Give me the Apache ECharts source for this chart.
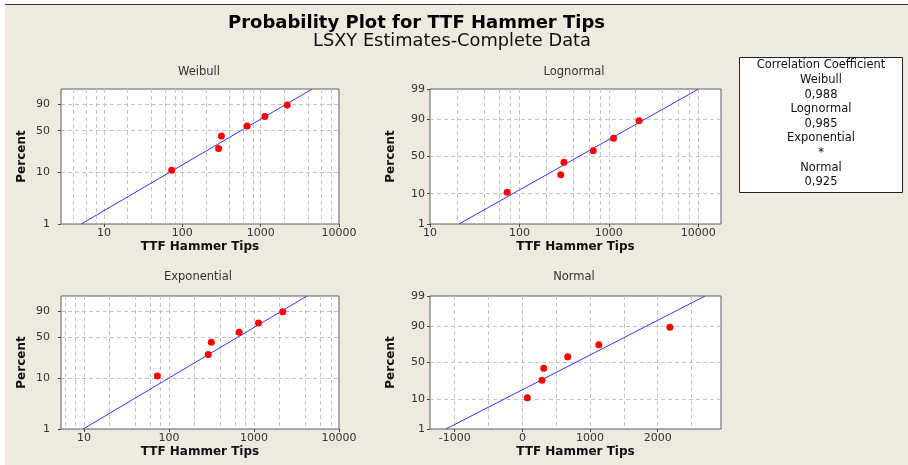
<!DOCTYPE html>
<html>
<head>
<meta charset="utf-8">
<script src="https://cdn.jsdelivr.net/npm/echarts@6/dist/echarts.min.js"></script>
<style>
html,body{margin:0;padding:0;background:#ffffff;}
#c{width:908px;height:465px;}
</style>
</head>
<body>
<div id="c"></div>
<script>
// ---------------- data ----------------
const ttf = [73, 290, 315, 670, 1130, 2180];
const percent = [10.9, 26.6, 42.2, 57.8, 73.4, 89.1];

const panelNames = ['Weibull', 'Lognormal', 'Exponential', 'Normal'];
const corrValues = ['0,988', '0,985', '*', '0,925'];

// fitted lines: two end points (TTF, percent)
const weibullFitTTF = [5.1, 4560];
const weibullFitPct = [1, 99];
const lognormalFitTTF = [21.1, 10100];
const lognormalFitPct = [1, 99];
const exponentialFitTTF = [9.8, 4200];
const exponentialFitPct = [1, 99];
const normalFitTTF = [-1130, 2700];
const normalFitPct = [1, 99];

// axis ranges and ticks
const weibullXRange = [2.82, 10000];
const lognormalXRange = [10, 18000];
const exponentialXRange = [5.37, 10000];
const normalXRange = [-1365, 2935];
const logTickLabels = [10, 100, 1000, 10000];
const logGridValues = [2, 4, 6, 8, 10, 20, 40, 60, 80, 100, 200, 400, 600, 800, 1000, 2000, 4000, 6000, 8000, 10000, 20000];
const normalTickLabels = [-1000, 0, 1000, 2000];
const normalGridValues = [-1000, -500, 0, 500, 1000, 1500, 2000, 2500];
const weibullPctTicks = [1, 10, 50, 90];
const normalPctTicks = [1, 10, 50, 90, 99];
const pctGridValues = [10, 50, 90];
const pctRange = [1, 99];

// ---------------- scale transforms ----------------
function lg(x) { return Math.log10(x); }
function ident(x) { return x; }
function weib(p) { return Math.log(-Math.log(1 - p / 100)); }
function probit(pp) {
  const p = pp / 100;
  const a = [-3.969683028665376e+01, 2.209460984245205e+02, -2.759285104469687e+02, 1.383577518672690e+02, -3.066479806614716e+01, 2.506628277459239e+00];
  const b = [-5.447609879822406e+01, 1.615858368580409e+02, -1.556989798598866e+02, 6.680131188771972e+01, -1.328068155288572e+01];
  const c = [-7.784894002430293e-03, -3.223964580411365e-01, -2.400758277161838e+00, -2.549671464489236e+00, 4.374664141464968e+00, 2.938163982698783e+00];
  const d = [7.784695709041462e-03, 3.224671290700398e-01, 2.445134137142996e+00, 3.754408661907416e+00];
  const pl = 0.02425;
  let q, r;
  if (p < pl) {
    q = Math.sqrt(-2 * Math.log(p));
    return (((((c[0]*q+c[1])*q+c[2])*q+c[3])*q+c[4])*q+c[5]) / ((((d[0]*q+d[1])*q+d[2])*q+d[3])*q+1);
  }
  if (p <= 1 - pl) {
    q = p - 0.5; r = q * q;
    return (((((a[0]*r+a[1])*r+a[2])*r+a[3])*r+a[4])*r+a[5])*q / (((((b[0]*r+b[1])*r+b[2])*r+b[3])*r+b[4])*r+1);
  }
  q = Math.sqrt(-2 * Math.log(1 - p));
  return -(((((c[0]*q+c[1])*q+c[2])*q+c[3])*q+c[4])*q+c[5]) / ((((d[0]*q+d[1])*q+d[2])*q+d[3])*q+1);
}

// ---------------- layout (styling) ----------------
const FONT = 'DejaVu Sans';
const gridBoxes = [
  { left: 61, top: 89, width: 278, height: 135 },
  { left: 430, top: 89, width: 291, height: 135 },
  { left: 61, top: 296, width: 278, height: 133 },
  { left: 430, top: 296, width: 291, height: 133 }
];
const yLabelMargins = [11, 5, 11, 5];
const panels = [
  { tx: lg, ty: weib, xr: weibullXRange, xl: logTickLabels, xg: logGridValues, yl: weibullPctTicks, fx: weibullFitTTF, fp: weibullFitPct, log: true },
  { tx: lg, ty: probit, xr: lognormalXRange, xl: logTickLabels, xg: logGridValues, yl: normalPctTicks, fx: lognormalFitTTF, fp: lognormalFitPct, log: true },
  { tx: lg, ty: weib, xr: exponentialXRange, xl: logTickLabels, xg: logGridValues, yl: weibullPctTicks, fx: exponentialFitTTF, fp: exponentialFitPct, log: true },
  { tx: ident, ty: probit, xr: normalXRange, xl: normalTickLabels, xg: normalGridValues, yl: normalPctTicks, fx: normalFitTTF, fp: normalFitPct, log: false }
];

const grids = [], xAxes = [], yAxes = [], series = [];
const eps = 1e-9;
const dashStyle = { color: '#c4c4c4', width: 1, type: [4, 3] };
const labelStyle = { color: '#333', fontFamily: FONT, fontSize: 11 };

panels.forEach(function (pn, i) {
  const g = gridBoxes[i];
  grids.push({ left: g.left, top: g.top, width: g.width, height: g.height, show: true,
    backgroundColor: '#ffffff', borderColor: '#5e5e5e', borderWidth: 1, containLabel: false });
  const xmin = pn.tx(pn.xr[0]) - eps, xmax = pn.tx(pn.xr[1]) + eps;
  const ymin = pn.ty(pctRange[0]) - eps, ymax = pn.ty(pctRange[1]) + eps;
  const xInner = pn.xg.map(pn.tx).filter(function (v) { return v > xmin + 1e-6 && v < xmax - 1e-6; });
  const yInner = pctGridValues.map(pn.ty);
  const yTickVals = pn.yl.map(pn.ty);
  // label x axis
  xAxes.push({
    type: 'value', gridIndex: i, position: 'bottom', min: xmin, max: xmax,
    axisLine: { show: false, onZero: false },
    axisTick: { show: true, length: 3, lineStyle: { color: '#444' }, customValues: pn.xl.map(pn.tx) },
    axisLabel: Object.assign({ margin: 4, customValues: pn.xl.map(pn.tx),
      formatter: function (v) { return pn.log ? String(Math.round(Math.pow(10, v))) : String(Math.round(v)); } }, labelStyle),
    splitLine: { show: false },
    name: 'TTF Hammer Tips', nameLocation: 'middle', nameGap: 17,
    nameTextStyle: { color: '#111', fontFamily: FONT, fontSize: 12, fontWeight: 'bold' }
  });
  // grid-line x axis
  xAxes.push({
    type: 'value', gridIndex: i, position: 'bottom', min: xmin, max: xmax,
    axisLine: { show: false, onZero: false }, axisTick: { show: false, customValues: xInner },
    axisLabel: { show: false }, splitLine: { show: true, lineStyle: dashStyle }
  });
  // label y axis
  yAxes.push({
    type: 'value', gridIndex: i, position: 'left', min: ymin, max: ymax,
    axisLine: { show: false, onZero: false },
    axisTick: { show: true, length: 3, lineStyle: { color: '#444' }, customValues: yTickVals },
    axisLabel: Object.assign({ margin: yLabelMargins[i], customValues: yTickVals,
      formatter: function (v) {
        let best = 0, bd = Infinity;
        yTickVals.forEach(function (t, k) { const dd = Math.abs(t - v); if (dd < bd) { bd = dd; best = k; } });
        return String(pn.yl[best]);
      } }, labelStyle),
    splitLine: { show: false },
    name: 'Percent', nameLocation: 'middle', nameGap: 33,
    nameTextStyle: { color: '#111', fontFamily: FONT, fontSize: 12, fontWeight: 'bold' }
  });
  // grid-line y axis
  yAxes.push({
    type: 'value', gridIndex: i, position: 'left', min: ymin, max: ymax,
    axisLine: { show: false, onZero: false }, axisTick: { show: false, customValues: yInner },
    axisLabel: { show: false }, splitLine: { show: true, lineStyle: dashStyle }
  });
  series.push({
    type: 'line', xAxisIndex: 2 * i, yAxisIndex: 2 * i, symbol: 'none', silent: true,
    lineStyle: { color: '#3535f2', width: 1 },
    data: pn.fx.map(function (x, k) { return [pn.tx(x), pn.ty(pn.fp[k])]; }),
    z: 3
  });
  series.push({
    type: 'scatter', xAxisIndex: 2 * i, yAxisIndex: 2 * i, symbol: 'circle', symbolSize: 7,
    itemStyle: { color: '#ff0000', opacity: 1 },
    data: ttf.map(function (x, k) { return [pn.tx(x), pn.ty(percent[k])]; }),
    z: 4
  });
});

// ---------------- graphics: background, titles, legend box ----------------
const graphics = [
  { type: 'rect', z: -10, silent: true, shape: { x: 5, y: 5, width: 903, height: 460 }, style: { fill: '#eeeae0' } },
  { type: 'line', z: -9, silent: true, shape: { x1: 5, y1: 4.5, x2: 908, y2: 4.5 }, style: { stroke: '#333', lineWidth: 1 } },
  { type: 'text', style: { text: 'Probability Plot for TTF Hammer Tips', x: 228, y: 23, align: 'left', verticalAlign: 'middle',
      textAlign: 'left', textVerticalAlign: 'middle', fill: '#000', font: 'bold 18px "DejaVu Sans"' } },
  { type: 'text', style: { text: 'LSXY Estimates-Complete Data', x: 313, y: 41.5, align: 'left', verticalAlign: 'middle',
      textAlign: 'left', textVerticalAlign: 'middle', fill: '#111', font: '17.8px "DejaVu Sans"' } }
];
const panelTitlePos = [[199, 72.5], [574, 72.5], [198, 277.5], [574, 277.5]];
panelNames.forEach(function (nm, i) {
  graphics.push({ type: 'text', style: { text: nm, x: panelTitlePos[i][0], y: panelTitlePos[i][1], align: 'center', verticalAlign: 'middle',
    textAlign: 'center', textVerticalAlign: 'middle', fill: '#333', font: '11.5px "DejaVu Sans"' } });
});
graphics.push({ type: 'rect', shape: { x: 739.5, y: 57.5, width: 163, height: 135 }, style: { fill: '#ffffff', stroke: '#222', lineWidth: 1 } });
const legendLines = ['Correlation Coefficient'];
panelNames.forEach(function (nm, i) { legendLines.push(nm); legendLines.push(corrValues[i]); });
legendLines.forEach(function (t, k) {
  graphics.push({ type: 'text', style: { text: t, x: 821, y: 65.5 + k * 14.6, align: 'center', verticalAlign: 'middle',
    textAlign: 'center', textVerticalAlign: 'middle', fill: '#111', font: '11.5px "DejaVu Sans"' } });
});

const chart = echarts.init(document.getElementById('c'), null, { renderer: 'canvas' });
chart.setOption({
  backgroundColor: '#ffffff',
  animation: false,
  textStyle: { fontFamily: FONT },
  grid: grids,
  xAxis: xAxes,
  yAxis: yAxes,
  series: series,
  graphic: graphics
});
</script>
</body>
</html>
